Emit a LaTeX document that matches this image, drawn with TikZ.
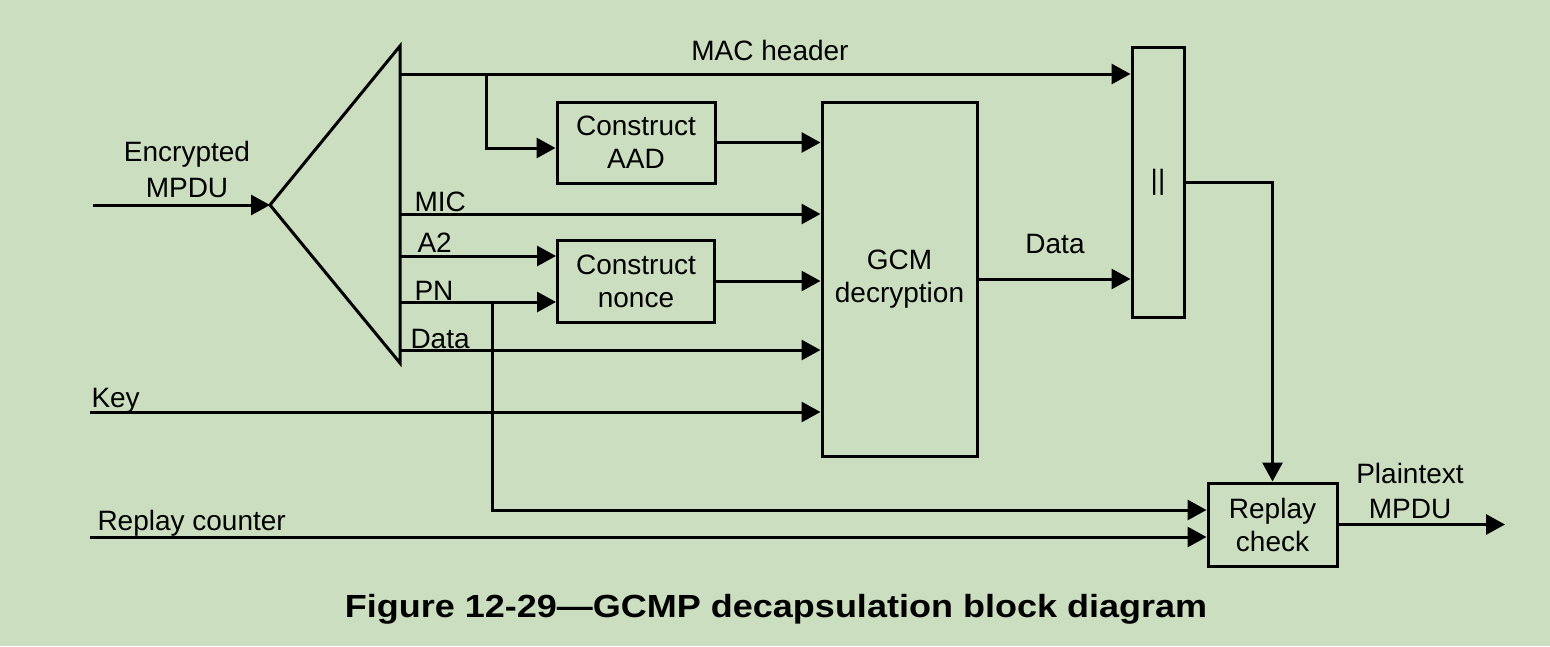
\documentclass[tikz,border=0pt]{standalone}
\usepackage{fontspec}
\usepackage{graphicx}
\setmainfont{Liberation Sans}
\usetikzlibrary{arrows.meta,calc}
\definecolor{bg}{RGB}{203,223,192}
\begin{document}
\begin{tikzpicture}[x=1pt,y=-1pt,line width=3pt,
  >={Triangle[length=19pt,width=20pt]},
  every node/.style={font=\fontsize{28}{33}\selectfont,inner sep=0pt},
  box/.style={draw,line width=3pt,align=center},
  lbl/.style={anchor=base west},
  clbl/.style={anchor=base}]
\fill[bg] (0,0) rectangle (1550,646);
\useasboundingbox (0,0) rectangle (1550,646);
% splitter triangle
\coordinate (ttop) at (400,46);
\coordinate (tbot) at (400,363);
\coordinate (apex) at (270,205);
\draw (ttop) -- (apex) -- (tbot) -- cycle;
\coordinate (eIn) at (93,205);
\coordinate (sMAC) at (400,74);
\coordinate (sMIC) at (400,214);
\coordinate (sA2) at (400,256);
\coordinate (sPN) at (400,302);
\coordinate (sData) at (400,350);
\coordinate (bMAC) at (486,74);
\coordinate (bMACd) at (486,148);
\coordinate (bPN) at (492,302);
\coordinate (kIn) at (90,412);
\coordinate (rcIn) at (90,537);
% boxes
\node[box,minimum width=158pt,minimum height=81pt] (aad) at (636,142.5) {Construct\\AAD};
\node[box,minimum width=157pt,minimum height=82pt] (nonce) at (636,281) {Construct\\nonce};
\node[box,minimum width=155pt,minimum height=354pt] (gcm) at (899.5,279) {GCM\\decryption};
\node[box,minimum width=52pt,minimum height=270pt] (cat) at (1158,182) {||};
\node[box,minimum width=129pt,minimum height=83pt] (replay) at (1272.5,524.5) {Replay\\check};
% connectors
\draw[->] (eIn) -- (apex);
\draw[->] (sMAC) -- (sMAC -| cat.west);
\draw[->] (bMAC) -- (bMACd) -- (bMACd -| aad.west);
\draw[->] (aad.east) -- (aad.east -| gcm.west);
\draw[->] (sMIC) -- (sMIC -| gcm.west);
\draw[->] (sA2) -- (sA2 -| nonce.west);
\draw[->] (sPN) -- (sPN -| nonce.west);
\draw[->] (nonce.east) -- (nonce.east -| gcm.west);
\draw[->] (sData) -- (sData -| gcm.west);
\draw[->] (kIn) -- (kIn -| gcm.west);
\draw[->] (bPN) |- ($(replay.west)+(0,-14.5)$);
\draw[->] (rcIn) -- (rcIn -| replay.west);
\draw[->] (gcm.east) -- (gcm.east -| cat.west);
\draw[->] (cat.east) -| (replay.north);
\coordinate (out) at (1505,524.5);
\draw[->] (replay.east) -- (out);
% labels
\node[clbl] (lEnc1) at (187,161) {Encrypted};
\node[clbl] (lEnc2) at (187,197) {MPDU};
\node[clbl] (lMAC) at (770,60) {MAC header};
\node[lbl] (lMIC) at (413,211) {MIC};
\node[lbl] (lA2) at (416,252) {A2};
\node[lbl] (lPN) at (413,300) {PN};
\node[lbl] (lData) at (409,348) {Data};
\node[lbl] (lKey) at (90,407) {Key};
\node[lbl] (lRC) at (96,530) {Replay counter};
\node[clbl] (lData2) at (1055,253) {Data};
\node[clbl] (lPt1) at (1410,483) {Plaintext};
\node[clbl] (lPt2) at (1410,518) {MPDU};
\node[clbl,font=\fontsize{32}{36}\selectfont\bfseries] (cap) at (776,617) {\scalebox{1.125}[1]{Figure 12-29—GCMP decapsulation block diagram}};
\end{tikzpicture}
\end{document}
